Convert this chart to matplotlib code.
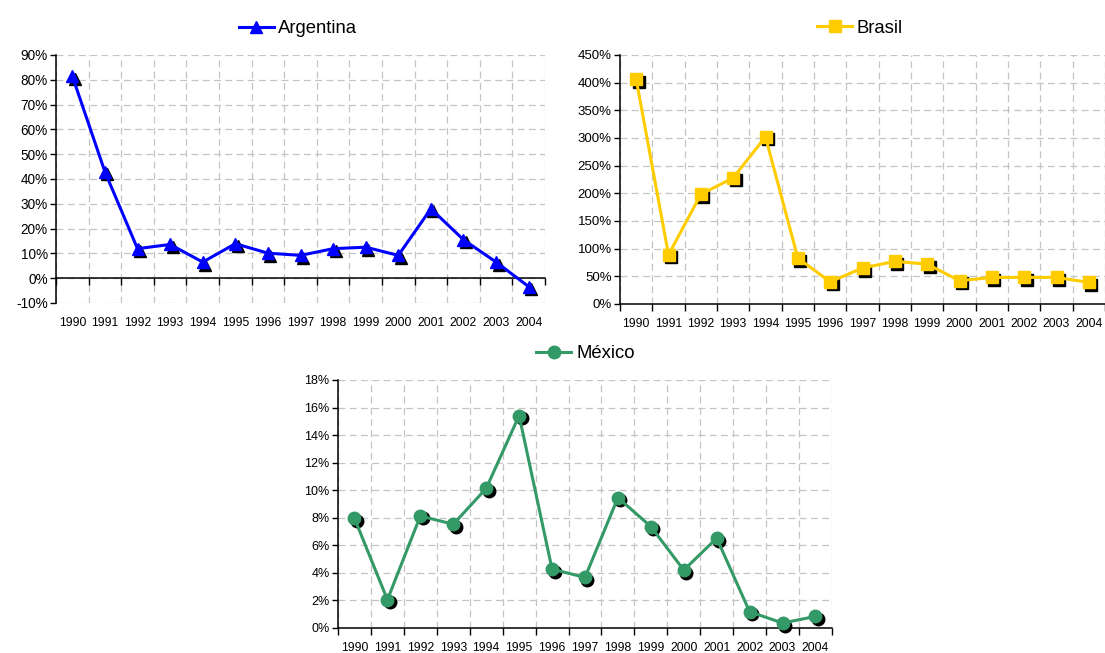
import matplotlib
matplotlib.use("Agg")
import matplotlib.pyplot as plt
import matplotlib.transforms as mtransforms
from matplotlib.ticker import FuncFormatter, MultipleLocator, FixedLocator
import numpy as np

plt.rcParams['font.family'] = ['Liberation Sans', 'DejaVu Sans']

years = [str(y) for y in range(1990, 2005)]
argentina = [81.5, 42.9, 11.9, 13.6, 6.5, 13.9, 10.1, 9.2, 11.9, 12.5, 9.2, 28.0, 15.5, 6.5, -3.4]
brasil = [406, 89, 198, 228, 302, 83, 40, 65, 77, 72, 42, 48, 48, 48, 39]
mexico = [7.96, 2.05, 8.13, 7.53, 10.13, 15.42, 4.27, 3.67, 9.46, 7.36, 4.2, 6.52, 1.18, 0.36, 0.84]

fig = plt.figure(figsize=(11.05, 6.53), dpi=100)


def make_panel(rect, values, label, color, marker, ylim, ystep, ysize, zero_axis=False,
               legend_xy=(0.5, 1.0), xpad=10.2):
    ax = fig.add_axes(rect)
    x = np.arange(len(values))
    # shadow markers
    shadow = mtransforms.offset_copy(ax.transData, fig=fig, x=1.8, y=-1.8, units='points')
    ax.plot(x, values, linestyle='none', marker=marker, markersize=9, color='black',
            transform=shadow, zorder=3, clip_on=False)
    ax.plot(x, values, color=color, lw=2.2, marker=marker, markersize=9,
            markerfacecolor=color, markeredgecolor=color, zorder=4, clip_on=False, label=label)
    ax.set_xlim(-0.5, len(values) - 0.5)
    ax.set_ylim(*ylim)
    ax.yaxis.set_major_locator(MultipleLocator(ystep))
    ax.yaxis.set_major_formatter(FuncFormatter(lambda v, p: f"{v:.0f}%"))
    ax.set_xticks(x)
    ax.set_xticklabels(years)
    ax.xaxis.set_minor_locator(FixedLocator(np.arange(len(values) + 1) - 0.5))
    ax.tick_params(axis='x', which='major', length=0, labelsize=8.7, colors='black', pad=xpad)
    ax.tick_params(axis='x', which='minor', length=5, width=1, direction='out', color='black')
    ax.tick_params(axis='y', which='major', length=4, width=1, direction='out',
                   labelsize=ysize, pad=2)
    ax.grid(True, axis='y', which='major', color='#c4c4c4', linestyle=(0, (5.5, 3.5)), lw=0.9)
    ax.grid(True, axis='x', which='minor', color='#c4c4c4', linestyle=(0, (5.5, 3.5)), lw=0.9)
    ax.set_axisbelow(True)
    for s in ['top', 'right']:
        ax.spines[s].set_visible(False)
    ax.spines['left'].set_linewidth(1.1)
    ax.spines['bottom'].set_linewidth(1.1)
    if zero_axis:
        ax.spines['bottom'].set_position(('data', 0))
    ax.legend(loc='lower center', bbox_to_anchor=legend_xy, frameon=False,
              fontsize=13.3, handlelength=1.9, handletextpad=0.25, borderaxespad=0)
    return ax


make_panel([0.0507, 0.536, 0.4425, 0.3798], argentina, 'Argentina', '#0000ff', '^',
           (-10, 90), 10, 9.8, zero_axis=True, legend_xy=(0.495, 1.042), xpad=27.8)
make_panel([0.5611, 0.5345, 0.4389, 0.3813], brasil, 'Brasil', '#ffcc00', 's',
           (0, 450), 50, 9.5, legend_xy=(0.495, 1.044))
make_panel([0.3059, 0.0383, 0.447, 0.3798], mexico, 'México', '#339966', 'o',
           (0, 18), 2, 9.0, legend_xy=(0.501, 1.042))

fig.savefig('out.png', dpi=100)
